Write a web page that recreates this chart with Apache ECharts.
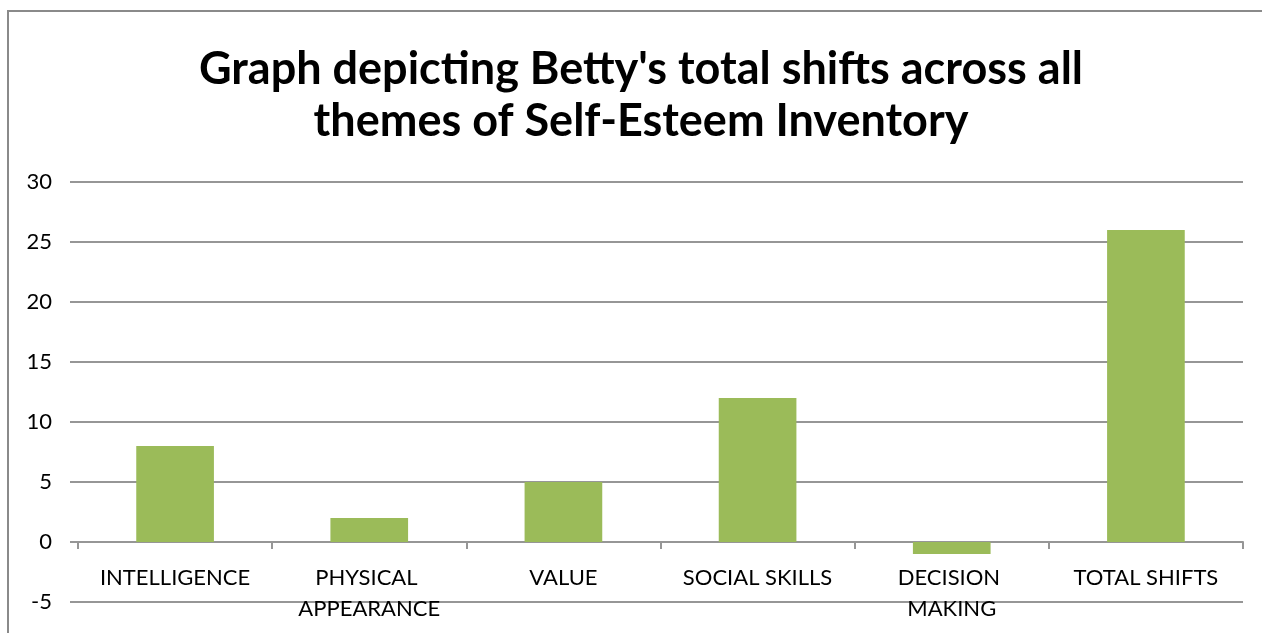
<!DOCTYPE html>
<html>
<head>
<meta charset="utf-8">
<title>Betty's total shifts</title>
<script src="https://cdn.jsdelivr.net/npm/echarts@6/dist/echarts.min.js"></script>
<style>
  html, body { margin: 0; padding: 0; background: #ffffff; }
  #chart { width: 1262px; height: 633px; }
</style>
</head>
<body>
<div id="chart"></div>
<script>
// Self-Esteem Inventory themes and Betty's shift per theme
const categories = ['INTELLIGENCE', 'PHYSICAL APPEARANCE', 'VALUE', 'SOCIAL SKILLS', 'DECISION MAKING', 'TOTAL SHIFTS'];
const shifts = [8, 2, 5, 12, -1, 26];
const titleLines = ["Graph depicting Betty's total shifts across all", 'themes of Self-Esteem Inventory'];

const FONT = 'Lato, "Open Sans", sans-serif';
const GRID_GRAY = '#969696';

const chart = echarts.init(document.getElementById('chart'), null, { renderer: 'canvas' });

chart.setOption({
  backgroundColor: '#ffffff',
  animation: false,
  title: {
    text: titleLines.join('\n'),
    left: 636,
    textAlign: 'center',
    top: 38,
    textStyle: {
      fontFamily: FONT,
      fontWeight: 'bold',
      fontSize: 45,
      lineHeight: 52,
      color: '#000000'
    }
  },
  graphic: [{
    type: 'rect',
    shape: { x: 8, y: 11, width: 1400, height: 800 },
    style: { fill: 'none', stroke: '#8a8a8a', lineWidth: 2 },
    silent: true,
    z: -1
  }],
  grid: { left: 78, right: 19, top: 182, bottom: 31, containLabel: false, outerBoundsMode: 'none' },
  xAxis: {
    type: 'category',
    data: categories,
    axisLine: { show: true, onZero: true, lineStyle: { color: GRID_GRAY, width: 2 } },
    axisTick: { show: true, length: 7, lineStyle: { color: GRID_GRAY, width: 2 } },
    axisLabel: {
      interval: 0,
      // labels sit just under the zero line, inside the plot area
      margin: -40,
      fontFamily: FONT,
      fontSize: 22,
      lineHeight: 31,
      color: '#000000',
      width: 185,
      overflow: 'break'
    },
    splitLine: { show: false }
  },
  yAxis: {
    type: 'value',
    min: -5,
    max: 30,
    interval: 5,
    axisLine: { show: false },
    axisTick: { show: true, length: 8, lineStyle: { color: GRID_GRAY, width: 2 } },
    axisLabel: {
      margin: 26,
      fontFamily: FONT,
      fontSize: 22,
      color: '#000000'
    },
    splitLine: { show: true, lineStyle: { color: GRID_GRAY, width: 2 } }
  },
  series: [{
    type: 'bar',
    data: shifts,
    barWidth: '40%',
    itemStyle: { color: '#9bbb59' }
  }]
});
</script>
</body>
</html>
